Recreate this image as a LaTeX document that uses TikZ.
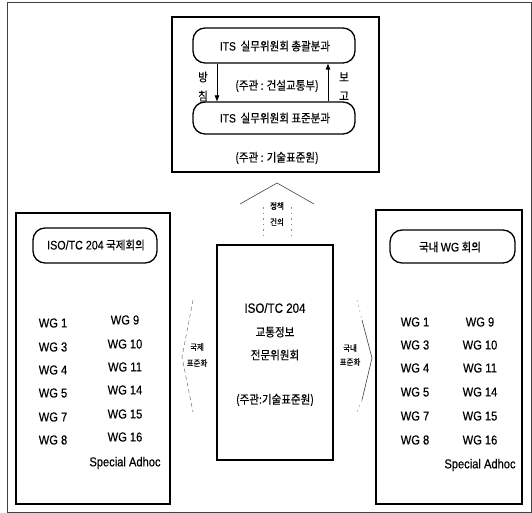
\documentclass[tikz,border=0pt]{standalone}
\usepackage{fontspec}
\setmainfont{Noto Sans CJK KR}[FakeStretch=0.88, FakeBold=0.4]
\newfontfamily\lat{Liberation Sans}[FakeStretch=0.86, FakeBold=0.4]
\usetikzlibrary{arrows.meta}
\begin{document}
\begin{tikzpicture}[x=1bp,y=-1bp,
  heavybox/.style={draw, line width=1.6bp, inner sep=0pt},
  pill/.style={draw, line width=1.3bp, rounded corners=12bp, inner sep=0pt},
  txt/.style={inner sep=0pt, font=\fontsize{12}{13}\selectfont},
  wg/.style={inner sep=0pt, font=\lat\fontsize{13}{14}\selectfont},
  small/.style={inner sep=0pt, font=\fontsize{8.5}{10}\selectfont},
  chev/.style={line width=0.6bp, draw=black!75},
  faint/.style={line width=0.5bp, draw=black!45, dash pattern=on 1.5bp off 4bp},
  arr/.style={line width=0.8bp, -{Triangle[length=6bp,width=4.5bp]}}
]
\useasboundingbox (0,0) rectangle (532,513);
% outer frame
\node[draw=black!75, line width=0.9bp, inner sep=0pt, minimum width=524bp, minimum height=510bp] (frame) at (269,257) {};
% top box
\node[heavybox, minimum width=207bp, minimum height=155bp] (top) at (275.5,94.5) {};
\node[pill, minimum width=162bp, minimum height=35bp] (b1) at (274,45.5) {};
\node[txt] (b1t) at (275,46) {{\lat ITS}\ \ 실무위원회\ 총괄분과};
\node[pill, minimum width=162bp, minimum height=32bp] (b2) at (274,118) {};
\node[txt] (b2t) at (275,118) {{\lat ITS}\ \ 실무위원회\ 표준분과};
\coordinate (dn) at (217,0);
\coordinate (up) at (328,0);
\draw[arr] (b1.south -| dn) -- (b2.north -| dn);
\draw[arr] (b2.north -| up) -- (b1.south -| up);
\node[txt] (bang) at (203,77) {방};
\node[txt] (chim) at (203,96) {침};
\node[txt] (bo) at (344,77) {보};
\node[txt] (go) at (344,96) {고};
\node[txt] (jg1) at (277,86) {(주관 : 건설교통부)};
\node[txt] (jg2) at (277,158) {(주관 : 기술표준원)};
% up chevron
\coordinate (ua) at (277,183);
\coordinate (ul) at (240,204);
\coordinate (ur) at (314,204);
\draw[chev] (ul) -- (ua) -- (ur);
\draw[faint] (263,207) -- (263,236);
\draw[faint] (291,207) -- (291,236);
\node[small] (jc) at (277,206) {정책};
\node[small] (gu) at (277,222) {건의};
% center box
\node[heavybox, minimum width=116bp, minimum height=215bp] (ctr) at (275,352.5) {};
\node[txt, font=\lat\fontsize{13.5}{14}\selectfont] (c1) at (275,308) {ISO/TC 204};
\node[txt] (c2) at (275,332) {교통정보};
\node[txt] (c3) at (275,355) {전문위원회};
\node[txt] (c4) at (275,400) {(주관:기술표준원)};
% left box
\node[heavybox, minimum width=154bp, minimum height=291bp] (lbox) at (93,358.5) {};
\node[pill, minimum width=124bp, minimum height=35bp] (lr) at (95,245.5) {};
\node[txt] (lrt) at (96,245) {{\lat\fontsize{12.5}{13}\selectfont ISO/TC 204}\ 국제회의};
\foreach \t/\y [count=\i] in {WG 1/323,WG 3/347,WG 4/370,WG 5/393,WG 7/417,WG 8/440}
  \node[wg] (la\i) at (53,\y) {\t};
\foreach \t/\y [count=\i] in {WG 9/320,WG 10/344,WG 11/367,WG 14/390,WG 15/414,WG 16/437,Special Adhoc/463}
  \node[wg] (lb\i) at (125,\y) {\t};
% right box
\node[heavybox, minimum width=146bp, minimum height=294bp] (rbox) at (449,357) {};
\node[pill, minimum width=125bp, minimum height=33bp] (rr) at (452.5,246.5) {};
\node[txt] (rrt) at (450,247) {국내\ {\lat\fontsize{12.5}{13}\selectfont WG}\ 회의};
\foreach \t/\y [count=\i] in {WG 1/322,WG 3/345,WG 4/368,WG 5/392,WG 7/416,WG 8/440}
  \node[wg] (ra\i) at (415,\y) {\t};
\foreach \t/\y [count=\i] in {WG 9/322,WG 10/345,WG 11/368,WG 14/392,WG 15/416,WG 16/440,Special Adhoc/465}
  \node[wg] (rb\i) at (480,\y) {\t};
% left chevron
\draw[line width=0.5bp, draw=black!55, dash pattern=on 4bp off 3bp] (193,300) -- (182,357) -- (193,412);
\node[small] (kj1) at (197,347) {국제};
\node[small] (kj2) at (197,363) {표준화};
% right chevron
\draw[faint] (357,300) -- (362,320);
\draw[chev] (362,320) -- (372,358) -- (362,400);
\draw[faint] (362,400) -- (357,412);
\node[small] (kn1) at (350,348) {국내};
\node[small] (kn2) at (350,362) {표준화};
\end{tikzpicture}
\end{document}
